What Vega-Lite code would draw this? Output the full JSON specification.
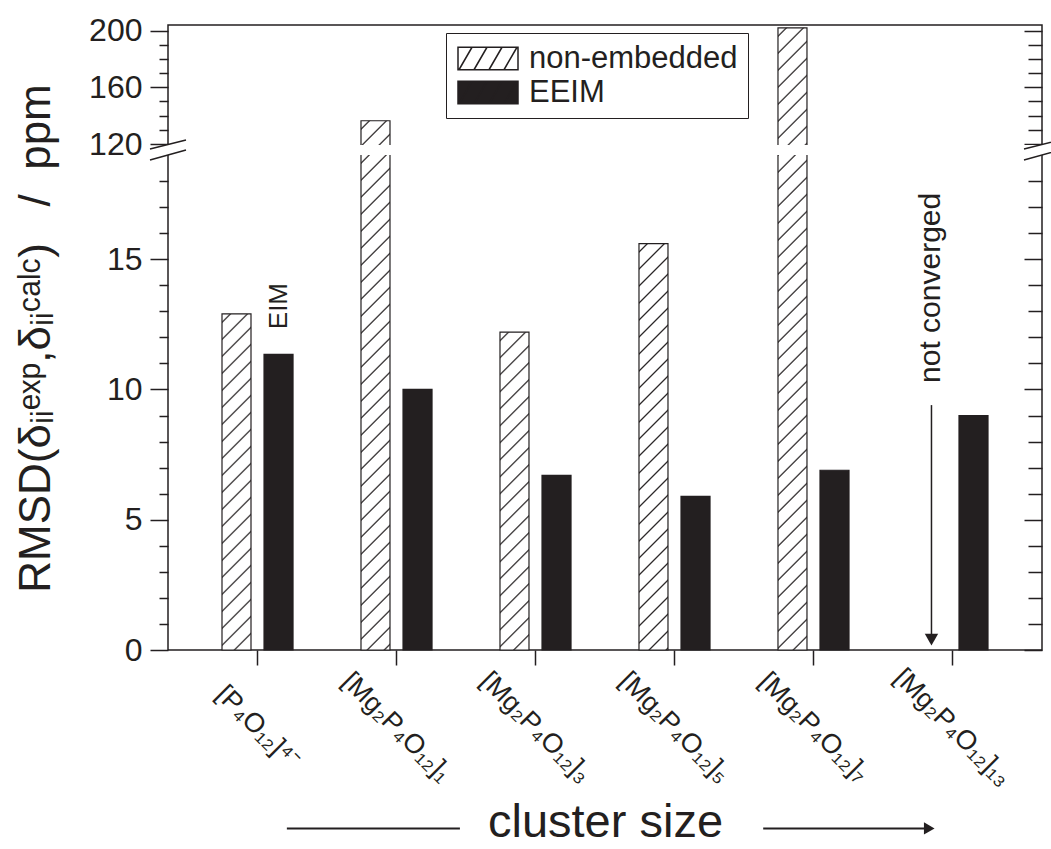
{
"$schema": "https://vega.github.io/schema/vega-lite/v6.json",
"width": 874, "height": 625,
"autosize": {"type": "none"},
"padding": {"left": 168, "top": 25, "right": 9, "bottom": 199},
"background": "white",
"config": {
 "font": "Liberation Sans",
 "view": {"stroke": "#231f20", "strokeWidth": 1.5},
 "axis": {"grid": false, "domain": false, "tickColor": "#231f20", "labelColor": "#231f20", "titleColor": "#231f20", "titleFontWeight": "normal", "tickWidth": 1.5, "labelFont": "Liberation Sans", "titleFont": "Liberation Sans"}
},
"datasets": {
 "bars": [
  {"cluster": "[P₄O₁₂]⁴⁻", "type": "non-embedded", "rmsd": 12.9},
  {"cluster": "[P₄O₁₂]⁴⁻", "type": "EEIM", "rmsd": 11.35},
  {"cluster": "[Mg₂P₄O₁₂]₁", "type": "non-embedded", "rmsd": 136.4},
  {"cluster": "[Mg₂P₄O₁₂]₁", "type": "EEIM", "rmsd": 10.0},
  {"cluster": "[Mg₂P₄O₁₂]₃", "type": "non-embedded", "rmsd": 12.2},
  {"cluster": "[Mg₂P₄O₁₂]₃", "type": "EEIM", "rmsd": 6.7},
  {"cluster": "[Mg₂P₄O₁₂]₅", "type": "non-embedded", "rmsd": 15.6},
  {"cluster": "[Mg₂P₄O₁₂]₅", "type": "EEIM", "rmsd": 5.9},
  {"cluster": "[Mg₂P₄O₁₂]₇", "type": "non-embedded", "rmsd": 202},
  {"cluster": "[Mg₂P₄O₁₂]₇", "type": "EEIM", "rmsd": 6.9},
  {"cluster": "[Mg₂P₄O₁₂]₁₃", "type": "non-embedded", "rmsd": null},
  {"cluster": "[Mg₂P₄O₁₂]₁₃", "type": "EEIM", "rmsd": 9.0}
 ]
},
"layer": [
 {
  "layer": [
   {
    "data": {"name": "bars"},
    "mark": {"type": "bar", "stroke": "#231f20", "strokeWidth": 1.2},
    "encoding": {
     "x": {"field": "cluster", "type": "nominal", "sort": null,
       "scale": {"type": "band", "domain": ["[P₄O₁₂]⁴⁻", "[Mg₂P₄O₁₂]₁", "[Mg₂P₄O₁₂]₃", "[Mg₂P₄O₁₂]₅", "[Mg₂P₄O₁₂]₇", "[Mg₂P₄O₁₂]₁₃"], "paddingInner": 0.489, "paddingOuter": 0.3885},
       "axis": {"orient": "bottom", "tickSize": 15, "labelAngle": 45, "labelAlign": "center", "labelBaseline": "middle", "labelPadding": 62, "labelFontSize": 27, "labelLimit": 1000, "labelOverlap": false,
         "title": "cluster size", "titleFontSize": 47, "titleX": 437, "titleY": 186, "titleBaseline": "alphabetic", "titleAlign": "center"}},
     "xOffset": {"field": "type", "type": "nominal", "sort": null, "scale": {"type": "band", "domain": ["non-embedded", "EEIM"], "paddingInner": 0.31, "paddingOuter": 0}},
     "y": {"field": "rmsd", "type": "quantitative",
       "scale": {"domain": [0, 19, 120, 204], "range": [625, 130, 119, 0], "nice": false, "zero": false},
       "axis": {"orient": "left", "values": [0, 5, 10, 15, 120, 160, 200], "format": "d", "tickSize": 18,
         "labelFontSize": 32, "labelPadding": 8, "labelOverlap": false,
         "title": "RMSD(δᵢᵢᵉˣᵖ,δᵢᵢᶜᵃˡᶜ)\u00a0\u00a0\u00a0/\u00a0\u00a0ppm", "titleFont": "Liberation Sans Narrow, Liberation Sans", "titleFontSize": 44, "titleX": -132, "titleY": 313, "titleAngle": 270, "titleAlign": "center", "titleBaseline": "middle", "titleLimit": 2000}},
     "fill": {
      "condition": [
       {"test": "datum.type == 'non-embedded' && datum.cluster == '[P₄O₁₂]⁴⁻'", "value": {"gradient": "linear", "x1": 0, "y1": 0, "x2": 0.1733, "y2": 2.0083, "stops": [
{"offset":0.01,"color":"#fff"},{"offset":0.0125,"color":"#231f20"},{"offset":0.015,"color":"#fff"},
{"offset":0.035,"color":"#fff"},{"offset":0.0375,"color":"#231f20"},{"offset":0.04,"color":"#fff"},
{"offset":0.06,"color":"#fff"},{"offset":0.0625,"color":"#231f20"},{"offset":0.065,"color":"#fff"},
{"offset":0.085,"color":"#fff"},{"offset":0.0875,"color":"#231f20"},{"offset":0.09,"color":"#fff"},
{"offset":0.11,"color":"#fff"},{"offset":0.1125,"color":"#231f20"},{"offset":0.115,"color":"#fff"},
{"offset":0.135,"color":"#fff"},{"offset":0.1375,"color":"#231f20"},{"offset":0.14,"color":"#fff"},
{"offset":0.16,"color":"#fff"},{"offset":0.1625,"color":"#231f20"},{"offset":0.165,"color":"#fff"},
{"offset":0.185,"color":"#fff"},{"offset":0.1875,"color":"#231f20"},{"offset":0.19,"color":"#fff"},
{"offset":0.21,"color":"#fff"},{"offset":0.2125,"color":"#231f20"},{"offset":0.215,"color":"#fff"},
{"offset":0.235,"color":"#fff"},{"offset":0.2375,"color":"#231f20"},{"offset":0.24,"color":"#fff"},
{"offset":0.26,"color":"#fff"},{"offset":0.2625,"color":"#231f20"},{"offset":0.265,"color":"#fff"},
{"offset":0.285,"color":"#fff"},{"offset":0.2875,"color":"#231f20"},{"offset":0.29,"color":"#fff"},
{"offset":0.31,"color":"#fff"},{"offset":0.3125,"color":"#231f20"},{"offset":0.315,"color":"#fff"},
{"offset":0.335,"color":"#fff"},{"offset":0.3375,"color":"#231f20"},{"offset":0.34,"color":"#fff"},
{"offset":0.36,"color":"#fff"},{"offset":0.3625,"color":"#231f20"},{"offset":0.365,"color":"#fff"},
{"offset":0.385,"color":"#fff"},{"offset":0.3875,"color":"#231f20"},{"offset":0.39,"color":"#fff"},
{"offset":0.41,"color":"#fff"},{"offset":0.4125,"color":"#231f20"},{"offset":0.415,"color":"#fff"},
{"offset":0.435,"color":"#fff"},{"offset":0.4375,"color":"#231f20"},{"offset":0.44,"color":"#fff"},
{"offset":0.46,"color":"#fff"},{"offset":0.4625,"color":"#231f20"},{"offset":0.465,"color":"#fff"},
{"offset":0.485,"color":"#fff"},{"offset":0.4875,"color":"#231f20"},{"offset":0.49,"color":"#fff"},
{"offset":0.51,"color":"#fff"},{"offset":0.5125,"color":"#231f20"},{"offset":0.515,"color":"#fff"},
{"offset":0.535,"color":"#fff"},{"offset":0.5375,"color":"#231f20"},{"offset":0.54,"color":"#fff"}
       ]}},
       {"test": "datum.type == 'non-embedded' && datum.cluster == '[Mg₂P₄O₁₂]₁'", "value": {"gradient": "linear", "x1": 0, "y1": 0, "x2": 0.0702, "y2": 1.2811, "stops": [
{"offset":0.01,"color":"#fff"},{"offset":0.0125,"color":"#231f20"},{"offset":0.015,"color":"#fff"},
{"offset":0.035,"color":"#fff"},{"offset":0.0375,"color":"#231f20"},{"offset":0.04,"color":"#fff"},
{"offset":0.06,"color":"#fff"},{"offset":0.0625,"color":"#231f20"},{"offset":0.065,"color":"#fff"},
{"offset":0.085,"color":"#fff"},{"offset":0.0875,"color":"#231f20"},{"offset":0.09,"color":"#fff"},
{"offset":0.11,"color":"#fff"},{"offset":0.1125,"color":"#231f20"},{"offset":0.115,"color":"#fff"},
{"offset":0.135,"color":"#fff"},{"offset":0.1375,"color":"#231f20"},{"offset":0.14,"color":"#fff"},
{"offset":0.16,"color":"#fff"},{"offset":0.1625,"color":"#231f20"},{"offset":0.165,"color":"#fff"},
{"offset":0.185,"color":"#fff"},{"offset":0.1875,"color":"#231f20"},{"offset":0.19,"color":"#fff"},
{"offset":0.21,"color":"#fff"},{"offset":0.2125,"color":"#231f20"},{"offset":0.215,"color":"#fff"},
{"offset":0.235,"color":"#fff"},{"offset":0.2375,"color":"#231f20"},{"offset":0.24,"color":"#fff"},
{"offset":0.26,"color":"#fff"},{"offset":0.2625,"color":"#231f20"},{"offset":0.265,"color":"#fff"},
{"offset":0.285,"color":"#fff"},{"offset":0.2875,"color":"#231f20"},{"offset":0.29,"color":"#fff"},
{"offset":0.31,"color":"#fff"},{"offset":0.3125,"color":"#231f20"},{"offset":0.315,"color":"#fff"},
{"offset":0.335,"color":"#fff"},{"offset":0.3375,"color":"#231f20"},{"offset":0.34,"color":"#fff"},
{"offset":0.36,"color":"#fff"},{"offset":0.3625,"color":"#231f20"},{"offset":0.365,"color":"#fff"},
{"offset":0.385,"color":"#fff"},{"offset":0.3875,"color":"#231f20"},{"offset":0.39,"color":"#fff"},
{"offset":0.41,"color":"#fff"},{"offset":0.4125,"color":"#231f20"},{"offset":0.415,"color":"#fff"},
{"offset":0.435,"color":"#fff"},{"offset":0.4375,"color":"#231f20"},{"offset":0.44,"color":"#fff"},
{"offset":0.46,"color":"#fff"},{"offset":0.4625,"color":"#231f20"},{"offset":0.465,"color":"#fff"},
{"offset":0.485,"color":"#fff"},{"offset":0.4875,"color":"#231f20"},{"offset":0.49,"color":"#fff"},
{"offset":0.51,"color":"#fff"},{"offset":0.5125,"color":"#231f20"},{"offset":0.515,"color":"#fff"},
{"offset":0.535,"color":"#fff"},{"offset":0.5375,"color":"#231f20"},{"offset":0.54,"color":"#fff"},
{"offset":0.56,"color":"#fff"},{"offset":0.5625,"color":"#231f20"},{"offset":0.565,"color":"#fff"},
{"offset":0.585,"color":"#fff"},{"offset":0.5875,"color":"#231f20"},{"offset":0.59,"color":"#fff"},
{"offset":0.61,"color":"#fff"},{"offset":0.6125,"color":"#231f20"},{"offset":0.615,"color":"#fff"},
{"offset":0.635,"color":"#fff"},{"offset":0.6375,"color":"#231f20"},{"offset":0.64,"color":"#fff"},
{"offset":0.66,"color":"#fff"},{"offset":0.6625,"color":"#231f20"},{"offset":0.665,"color":"#fff"},
{"offset":0.685,"color":"#fff"},{"offset":0.6875,"color":"#231f20"},{"offset":0.69,"color":"#fff"},
{"offset":0.71,"color":"#fff"},{"offset":0.7125,"color":"#231f20"},{"offset":0.715,"color":"#fff"},
{"offset":0.735,"color":"#fff"},{"offset":0.7375,"color":"#231f20"},{"offset":0.74,"color":"#fff"},
{"offset":0.76,"color":"#fff"},{"offset":0.7625,"color":"#231f20"},{"offset":0.765,"color":"#fff"},
{"offset":0.785,"color":"#fff"},{"offset":0.7875,"color":"#231f20"},{"offset":0.79,"color":"#fff"},
{"offset":0.81,"color":"#fff"},{"offset":0.8125,"color":"#231f20"},{"offset":0.815,"color":"#fff"}
       ]}},
       {"test": "datum.type == 'non-embedded' && datum.cluster == '[Mg₂P₄O₁₂]₃'", "value": {"gradient": "linear", "x1": 0, "y1": 0, "x2": 0.1936, "y2": 2.122, "stops": [
{"offset":0.01,"color":"#fff"},{"offset":0.0125,"color":"#231f20"},{"offset":0.015,"color":"#fff"},
{"offset":0.035,"color":"#fff"},{"offset":0.0375,"color":"#231f20"},{"offset":0.04,"color":"#fff"},
{"offset":0.06,"color":"#fff"},{"offset":0.0625,"color":"#231f20"},{"offset":0.065,"color":"#fff"},
{"offset":0.085,"color":"#fff"},{"offset":0.0875,"color":"#231f20"},{"offset":0.09,"color":"#fff"},
{"offset":0.11,"color":"#fff"},{"offset":0.1125,"color":"#231f20"},{"offset":0.115,"color":"#fff"},
{"offset":0.135,"color":"#fff"},{"offset":0.1375,"color":"#231f20"},{"offset":0.14,"color":"#fff"},
{"offset":0.16,"color":"#fff"},{"offset":0.1625,"color":"#231f20"},{"offset":0.165,"color":"#fff"},
{"offset":0.185,"color":"#fff"},{"offset":0.1875,"color":"#231f20"},{"offset":0.19,"color":"#fff"},
{"offset":0.21,"color":"#fff"},{"offset":0.2125,"color":"#231f20"},{"offset":0.215,"color":"#fff"},
{"offset":0.235,"color":"#fff"},{"offset":0.2375,"color":"#231f20"},{"offset":0.24,"color":"#fff"},
{"offset":0.26,"color":"#fff"},{"offset":0.2625,"color":"#231f20"},{"offset":0.265,"color":"#fff"},
{"offset":0.285,"color":"#fff"},{"offset":0.2875,"color":"#231f20"},{"offset":0.29,"color":"#fff"},
{"offset":0.31,"color":"#fff"},{"offset":0.3125,"color":"#231f20"},{"offset":0.315,"color":"#fff"},
{"offset":0.335,"color":"#fff"},{"offset":0.3375,"color":"#231f20"},{"offset":0.34,"color":"#fff"},
{"offset":0.36,"color":"#fff"},{"offset":0.3625,"color":"#231f20"},{"offset":0.365,"color":"#fff"},
{"offset":0.385,"color":"#fff"},{"offset":0.3875,"color":"#231f20"},{"offset":0.39,"color":"#fff"},
{"offset":0.41,"color":"#fff"},{"offset":0.4125,"color":"#231f20"},{"offset":0.415,"color":"#fff"},
{"offset":0.435,"color":"#fff"},{"offset":0.4375,"color":"#231f20"},{"offset":0.44,"color":"#fff"},
{"offset":0.46,"color":"#fff"},{"offset":0.4625,"color":"#231f20"},{"offset":0.465,"color":"#fff"},
{"offset":0.485,"color":"#fff"},{"offset":0.4875,"color":"#231f20"},{"offset":0.49,"color":"#fff"},
{"offset":0.51,"color":"#fff"},{"offset":0.5125,"color":"#231f20"},{"offset":0.515,"color":"#fff"}
       ]}},
       {"test": "datum.type == 'non-embedded' && datum.cluster == '[Mg₂P₄O₁₂]₅'", "value": {"gradient": "linear", "x1": 0, "y1": 0, "x2": 0.1188, "y2": 1.6648, "stops": [
{"offset":0.01,"color":"#fff"},{"offset":0.0125,"color":"#231f20"},{"offset":0.015,"color":"#fff"},
{"offset":0.035,"color":"#fff"},{"offset":0.0375,"color":"#231f20"},{"offset":0.04,"color":"#fff"},
{"offset":0.06,"color":"#fff"},{"offset":0.0625,"color":"#231f20"},{"offset":0.065,"color":"#fff"},
{"offset":0.085,"color":"#fff"},{"offset":0.0875,"color":"#231f20"},{"offset":0.09,"color":"#fff"},
{"offset":0.11,"color":"#fff"},{"offset":0.1125,"color":"#231f20"},{"offset":0.115,"color":"#fff"},
{"offset":0.135,"color":"#fff"},{"offset":0.1375,"color":"#231f20"},{"offset":0.14,"color":"#fff"},
{"offset":0.16,"color":"#fff"},{"offset":0.1625,"color":"#231f20"},{"offset":0.165,"color":"#fff"},
{"offset":0.185,"color":"#fff"},{"offset":0.1875,"color":"#231f20"},{"offset":0.19,"color":"#fff"},
{"offset":0.21,"color":"#fff"},{"offset":0.2125,"color":"#231f20"},{"offset":0.215,"color":"#fff"},
{"offset":0.235,"color":"#fff"},{"offset":0.2375,"color":"#231f20"},{"offset":0.24,"color":"#fff"},
{"offset":0.26,"color":"#fff"},{"offset":0.2625,"color":"#231f20"},{"offset":0.265,"color":"#fff"},
{"offset":0.285,"color":"#fff"},{"offset":0.2875,"color":"#231f20"},{"offset":0.29,"color":"#fff"},
{"offset":0.31,"color":"#fff"},{"offset":0.3125,"color":"#231f20"},{"offset":0.315,"color":"#fff"},
{"offset":0.335,"color":"#fff"},{"offset":0.3375,"color":"#231f20"},{"offset":0.34,"color":"#fff"},
{"offset":0.36,"color":"#fff"},{"offset":0.3625,"color":"#231f20"},{"offset":0.365,"color":"#fff"},
{"offset":0.385,"color":"#fff"},{"offset":0.3875,"color":"#231f20"},{"offset":0.39,"color":"#fff"},
{"offset":0.41,"color":"#fff"},{"offset":0.4125,"color":"#231f20"},{"offset":0.415,"color":"#fff"},
{"offset":0.435,"color":"#fff"},{"offset":0.4375,"color":"#231f20"},{"offset":0.44,"color":"#fff"},
{"offset":0.46,"color":"#fff"},{"offset":0.4625,"color":"#231f20"},{"offset":0.465,"color":"#fff"},
{"offset":0.485,"color":"#fff"},{"offset":0.4875,"color":"#231f20"},{"offset":0.49,"color":"#fff"},
{"offset":0.51,"color":"#fff"},{"offset":0.5125,"color":"#231f20"},{"offset":0.515,"color":"#fff"},
{"offset":0.535,"color":"#fff"},{"offset":0.5375,"color":"#231f20"},{"offset":0.54,"color":"#fff"},
{"offset":0.56,"color":"#fff"},{"offset":0.5625,"color":"#231f20"},{"offset":0.565,"color":"#fff"},
{"offset":0.585,"color":"#fff"},{"offset":0.5875,"color":"#231f20"},{"offset":0.59,"color":"#fff"},
{"offset":0.61,"color":"#fff"},{"offset":0.6125,"color":"#231f20"},{"offset":0.615,"color":"#fff"},
{"offset":0.635,"color":"#fff"},{"offset":0.6375,"color":"#231f20"},{"offset":0.64,"color":"#fff"}
       ]}},
       {"test": "datum.type == 'non-embedded' && datum.cluster == '[Mg₂P₄O₁₂]₇'", "value": {"gradient": "linear", "x1": 0, "y1": 0, "x2": 0.0508, "y2": 1.0905, "stops": [
{"offset":0.01,"color":"#fff"},{"offset":0.0125,"color":"#231f20"},{"offset":0.015,"color":"#fff"},
{"offset":0.035,"color":"#fff"},{"offset":0.0375,"color":"#231f20"},{"offset":0.04,"color":"#fff"},
{"offset":0.06,"color":"#fff"},{"offset":0.0625,"color":"#231f20"},{"offset":0.065,"color":"#fff"},
{"offset":0.085,"color":"#fff"},{"offset":0.0875,"color":"#231f20"},{"offset":0.09,"color":"#fff"},
{"offset":0.11,"color":"#fff"},{"offset":0.1125,"color":"#231f20"},{"offset":0.115,"color":"#fff"},
{"offset":0.135,"color":"#fff"},{"offset":0.1375,"color":"#231f20"},{"offset":0.14,"color":"#fff"},
{"offset":0.16,"color":"#fff"},{"offset":0.1625,"color":"#231f20"},{"offset":0.165,"color":"#fff"},
{"offset":0.185,"color":"#fff"},{"offset":0.1875,"color":"#231f20"},{"offset":0.19,"color":"#fff"},
{"offset":0.21,"color":"#fff"},{"offset":0.2125,"color":"#231f20"},{"offset":0.215,"color":"#fff"},
{"offset":0.235,"color":"#fff"},{"offset":0.2375,"color":"#231f20"},{"offset":0.24,"color":"#fff"},
{"offset":0.26,"color":"#fff"},{"offset":0.2625,"color":"#231f20"},{"offset":0.265,"color":"#fff"},
{"offset":0.285,"color":"#fff"},{"offset":0.2875,"color":"#231f20"},{"offset":0.29,"color":"#fff"},
{"offset":0.31,"color":"#fff"},{"offset":0.3125,"color":"#231f20"},{"offset":0.315,"color":"#fff"},
{"offset":0.335,"color":"#fff"},{"offset":0.3375,"color":"#231f20"},{"offset":0.34,"color":"#fff"},
{"offset":0.36,"color":"#fff"},{"offset":0.3625,"color":"#231f20"},{"offset":0.365,"color":"#fff"},
{"offset":0.385,"color":"#fff"},{"offset":0.3875,"color":"#231f20"},{"offset":0.39,"color":"#fff"},
{"offset":0.41,"color":"#fff"},{"offset":0.4125,"color":"#231f20"},{"offset":0.415,"color":"#fff"},
{"offset":0.435,"color":"#fff"},{"offset":0.4375,"color":"#231f20"},{"offset":0.44,"color":"#fff"},
{"offset":0.46,"color":"#fff"},{"offset":0.4625,"color":"#231f20"},{"offset":0.465,"color":"#fff"},
{"offset":0.485,"color":"#fff"},{"offset":0.4875,"color":"#231f20"},{"offset":0.49,"color":"#fff"},
{"offset":0.51,"color":"#fff"},{"offset":0.5125,"color":"#231f20"},{"offset":0.515,"color":"#fff"},
{"offset":0.535,"color":"#fff"},{"offset":0.5375,"color":"#231f20"},{"offset":0.54,"color":"#fff"},
{"offset":0.56,"color":"#fff"},{"offset":0.5625,"color":"#231f20"},{"offset":0.565,"color":"#fff"},
{"offset":0.585,"color":"#fff"},{"offset":0.5875,"color":"#231f20"},{"offset":0.59,"color":"#fff"},
{"offset":0.61,"color":"#fff"},{"offset":0.6125,"color":"#231f20"},{"offset":0.615,"color":"#fff"},
{"offset":0.635,"color":"#fff"},{"offset":0.6375,"color":"#231f20"},{"offset":0.64,"color":"#fff"},
{"offset":0.66,"color":"#fff"},{"offset":0.6625,"color":"#231f20"},{"offset":0.665,"color":"#fff"},
{"offset":0.685,"color":"#fff"},{"offset":0.6875,"color":"#231f20"},{"offset":0.69,"color":"#fff"},
{"offset":0.71,"color":"#fff"},{"offset":0.7125,"color":"#231f20"},{"offset":0.715,"color":"#fff"},
{"offset":0.735,"color":"#fff"},{"offset":0.7375,"color":"#231f20"},{"offset":0.74,"color":"#fff"},
{"offset":0.76,"color":"#fff"},{"offset":0.7625,"color":"#231f20"},{"offset":0.765,"color":"#fff"},
{"offset":0.785,"color":"#fff"},{"offset":0.7875,"color":"#231f20"},{"offset":0.79,"color":"#fff"},
{"offset":0.81,"color":"#fff"},{"offset":0.8125,"color":"#231f20"},{"offset":0.815,"color":"#fff"},
{"offset":0.835,"color":"#fff"},{"offset":0.8375,"color":"#231f20"},{"offset":0.84,"color":"#fff"},
{"offset":0.86,"color":"#fff"},{"offset":0.8625,"color":"#231f20"},{"offset":0.865,"color":"#fff"},
{"offset":0.885,"color":"#fff"},{"offset":0.8875,"color":"#231f20"},{"offset":0.89,"color":"#fff"},
{"offset":0.91,"color":"#fff"},{"offset":0.9125,"color":"#231f20"},{"offset":0.915,"color":"#fff"},
{"offset":0.935,"color":"#fff"},{"offset":0.9375,"color":"#231f20"},{"offset":0.94,"color":"#fff"}
       ]}}
      ],
      "field": "type", "type": "nominal",
      "scale": {"domain": ["non-embedded", "EEIM"], "range": ["#ffffff", "#231f20"]},
      "legend": {
       "orient": "none", "legendX": 278, "legendY": 8, "title": null, "padding": 10,
       "strokeColor": "#231f20", "fillColor": "#ffffff",
       "symbolType": "M-1.8,-1.5H6.2V1.5H-1.8Z M-1.667,1.5L0.067,-1.5 M0.333,1.5L2.067,-1.5 M2.333,1.5L4.067,-1.5 M4.333,1.5L6.067,-1.5", "symbolSize": 225,
       "labelFontSize": 31, "labelFont": "Liberation Sans", "labelColor": "#231f20", "labelOffset": 42, "labelLimit": 500,
       "rowPadding": 2,
       "encode": {"symbols": {"stroke": "#231f20", "strokeWidth": 1.2, "opacity": 1}}
      }
     }
    }
   },
   {
    "data": {"values": [{"cluster": "[P₄O₁₂]⁴⁻", "type": "EEIM", "pos": 13.2, "label": "EIM"}]},
    "mark": {"type": "text", "angle": 270, "fontSize": 26, "font": "Liberation Sans", "color": "#231f20", "align": "center", "baseline": "middle"},
    "encoding": {
     "x": {"field": "cluster", "type": "nominal", "sort": null, "scale": {"type": "band", "domain": ["[P₄O₁₂]⁴⁻", "[Mg₂P₄O₁₂]₁", "[Mg₂P₄O₁₂]₃", "[Mg₂P₄O₁₂]₅", "[Mg₂P₄O₁₂]₇", "[Mg₂P₄O₁₂]₁₃"], "paddingInner": 0.489, "paddingOuter": 0.3885}},
     "xOffset": {"field": "type", "type": "nominal", "sort": null, "scale": {"type": "band", "domain": ["non-embedded", "EEIM"], "paddingInner": 0.31, "paddingOuter": 0}},
     "y": {"field": "pos", "type": "quantitative", "scale": {"domain": [0, 19, 120, 204], "range": [625, 130, 119, 0], "nice": false, "zero": false},
       "axis": {"orient": "left", "values": [1,2,3,4,6,7,8,9,11,12,13,14,16,17,18,130,140,150,170,180,190], "labels": false, "tickSize": 9, "title": null}},
     "text": {"field": "label"}
    }
   },
   {
    "data": {"values": [{"cluster": "[Mg₂P₄O₁₂]₁₃", "type": "non-embedded", "pos": 13.9, "label": "not converged"}]},
    "mark": {"type": "text", "angle": 270, "fontSize": 30, "font": "Liberation Sans", "color": "#231f20", "align": "center", "baseline": "middle"},
    "encoding": {
     "x": {"field": "cluster", "type": "nominal", "sort": null, "scale": {"type": "band", "domain": ["[P₄O₁₂]⁴⁻", "[Mg₂P₄O₁₂]₁", "[Mg₂P₄O₁₂]₃", "[Mg₂P₄O₁₂]₅", "[Mg₂P₄O₁₂]₇", "[Mg₂P₄O₁₂]₁₃"], "paddingInner": 0.489, "paddingOuter": 0.3885}},
     "xOffset": {"field": "type", "type": "nominal", "sort": null, "scale": {"type": "band", "domain": ["non-embedded", "EEIM"], "paddingInner": 0.31, "paddingOuter": 0}},
     "y": {"field": "pos", "type": "quantitative", "scale": {"domain": [0, 19, 120, 204], "range": [625, 130, 119, 0], "nice": false, "zero": false}, "axis": null},
     "text": {"field": "label"}
    }
   },
   {
    "data": {"values": [{"cluster": "[Mg₂P₄O₁₂]₁₃", "type": "non-embedded", "top": 9.4, "bottom": 0.4}]},
    "mark": {"type": "rule", "stroke": "#231f20", "strokeWidth": 1.5},
    "encoding": {
     "x": {"field": "cluster", "type": "nominal", "sort": null, "scale": {"type": "band", "domain": ["[P₄O₁₂]⁴⁻", "[Mg₂P₄O₁₂]₁", "[Mg₂P₄O₁₂]₃", "[Mg₂P₄O₁₂]₅", "[Mg₂P₄O₁₂]₇", "[Mg₂P₄O₁₂]₁₃"], "paddingInner": 0.489, "paddingOuter": 0.3885}},
     "xOffset": {"field": "type", "type": "nominal", "sort": null, "scale": {"type": "band", "domain": ["non-embedded", "EEIM"], "paddingInner": 0.31, "paddingOuter": 0}},
     "y": {"field": "top", "type": "quantitative", "scale": {"domain": [0, 19, 120, 204], "range": [625, 130, 119, 0], "nice": false, "zero": false}, "axis": null},
     "y2": {"field": "bottom"}
    }
   },
   {
    "data": {"values": [{"cluster": "[Mg₂P₄O₁₂]₁₃", "type": "non-embedded", "top": 9.4, "bottom": 0.4}]},
    "mark": {"type": "point", "shape": "triangle-down", "filled": true, "size": 180, "color": "#231f20", "opacity": 1},
    "encoding": {
     "x": {"field": "cluster", "type": "nominal", "sort": null, "scale": {"type": "band", "domain": ["[P₄O₁₂]⁴⁻", "[Mg₂P₄O₁₂]₁", "[Mg₂P₄O₁₂]₃", "[Mg₂P₄O₁₂]₅", "[Mg₂P₄O₁₂]₇", "[Mg₂P₄O₁₂]₁₃"], "paddingInner": 0.489, "paddingOuter": 0.3885}},
     "xOffset": {"field": "type", "type": "nominal", "sort": null, "scale": {"type": "band", "domain": ["non-embedded", "EEIM"], "paddingInner": 0.31, "paddingOuter": 0}},
     "y": {"field": "bottom", "type": "quantitative", "scale": {"domain": [0, 19, 120, 204], "range": [625, 130, 119, 0], "nice": false, "zero": false}, "axis": null}
    }
   }
  ],
  "resolve": {"axis": {"y": "independent"}}
 },
 {
  "layer": [
   {
    "data": {"values": [{"bx": 0, "bx2": 1, "gy": 19, "gy2": 111}]},
    "mark": {"type": "rect", "fill": "#ffffff", "xOffset": -4, "x2Offset": 4},
    "encoding": {
     "x": {"field": "bx", "type": "quantitative", "scale": {"domain": [0, 1], "nice": false, "zero": false}, "axis": null},
     "x2": {"field": "bx2"},
     "y": {"field": "gy", "type": "quantitative", "scale": {"domain": [0, 19, 120, 204], "range": [625, 130, 119, 0], "nice": false, "zero": false},
       "axis": {"orient": "right", "values": [0, 5, 10, 15, 120, 160, 200], "labels": false, "title": null, "tickSize": -18}},
     "y2": {"field": "gy2"}
    }
   },
   {
    "data": {"values": [{"bx": 0, "gy": 67}, {"bx": 1, "gy": 67}]},
    "mark": {"type": "point", "shape": "M-1,-0.04L1,-0.54M-1,0.57L1,0.01", "size": 1296, "filled": false, "stroke": "#231f20", "strokeWidth": 1.5, "opacity": 1},
    "encoding": {
     "x": {"field": "bx", "type": "quantitative", "scale": {"domain": [0, 1], "nice": false, "zero": false}, "axis": null},
     "y": {"field": "gy", "type": "quantitative", "scale": {"domain": [0, 19, 120, 204], "range": [625, 130, 119, 0], "nice": false, "zero": false},
       "axis": {"orient": "right", "values": [1,2,3,4,6,7,8,9,11,12,13,14,16,17,18,130,140,150,170,180,190], "labels": false, "title": null, "tickSize": -14}}
    }
   },
   {
    "data": {"values": [{"bx": 0.136, "bx2": 0.334, "gy": -6.85}, {"bx": 0.681, "bx2": 0.871, "gy": -6.85}]},
    "mark": {"type": "rule", "stroke": "#231f20", "strokeWidth": 2},
    "encoding": {
     "x": {"field": "bx", "type": "quantitative", "scale": {"domain": [0, 1], "nice": false, "zero": false}, "axis": null},
     "x2": {"field": "bx2"},
     "y": {"field": "gy", "type": "quantitative", "scale": {"domain": [0, 19, 120, 204], "range": [625, 130, 119, 0], "nice": false, "zero": false}, "axis": null}
    }
   },
   {
    "data": {"values": [{"bx": 0.871, "gy": -6.85}]},
    "mark": {"type": "point", "shape": "triangle-right", "filled": true, "size": 150, "color": "#231f20", "opacity": 1},
    "encoding": {
     "x": {"field": "bx", "type": "quantitative", "scale": {"domain": [0, 1], "nice": false, "zero": false}, "axis": null},
     "y": {"field": "gy", "type": "quantitative", "scale": {"domain": [0, 19, 120, 204], "range": [625, 130, 119, 0], "nice": false, "zero": false}, "axis": null}
    }
   }
  ],
  "resolve": {"axis": {"y": "independent"}}
 }
],
"resolve": {"scale": {"x": "independent"}, "axis": {"x": "independent", "y": "independent"}}
}
